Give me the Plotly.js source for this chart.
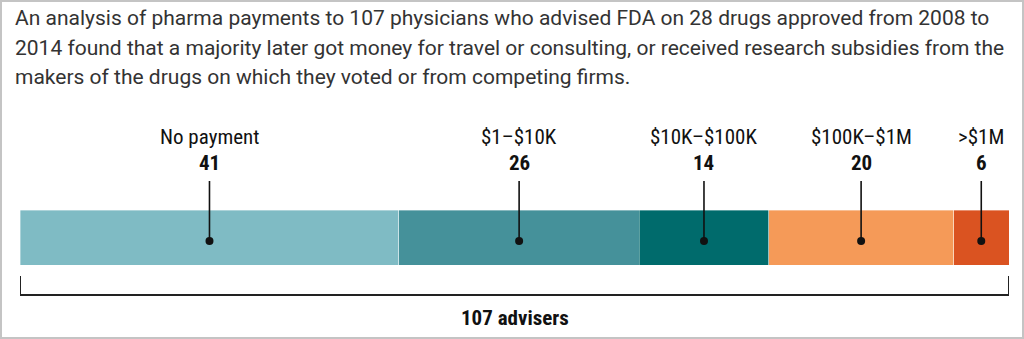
<!DOCTYPE html>
<html>
<head>
<meta charset="utf-8">
<script src="https://cdn.plot.ly/plotly-3.0.1.min.js"></script>
<style>
html,body{margin:0;padding:0;background:#fff;}
#wrap{position:relative;width:1024px;height:339px;}
#chart{width:1024px;height:339px;}
#frame{position:absolute;left:0;top:0;width:1024px;height:339px;box-sizing:border-box;border:2px solid #c4c4c4;pointer-events:none;}
</style>
</head>
<body>
<div id="wrap"><div id="chart"></div><div id="frame"></div></div>
<script>
// ---- data ----
const categories = ["No payment", "$1\u2013$10K", "$10K\u2013$100K", "$100K\u2013$1M", ">$1M"];
const counts = [41, 26, 14, 20, 6];
const colors = ["#7fbbc4", "#45919a", "#006b6c", "#f59a58", "#da5321"];
const totalLabel = "107 advisers";
const introLines = [
  "An analysis of pharma payments to 107 physicians who advised FDA on 28 drugs approved from 2008 to",
  "2014 found that a majority later got money for travel or consulting, or received research subsidies from the",
  "makers of the drugs on which they voted or from competing firms."
];

// ---- layout constants (pixel-like y axis) ----
const W = 1024, H = 339;
const ML = 20, MR = 15;
const plotW = W - ML - MR;
const BAR_Y = 237.5, BAR_H = 55;
const DOT_Y = 241, LINE_TOP = 181;
const NAME_Y = 137, NUM_Y = 163;
const BR_TOP = 276, BR_Y = 295, TOTAL_Y = 318;

const total = counts.reduce((a, b) => a + b, 0);
const mids = [];
let cum = 0;
counts.forEach(v => { mids.push(cum + v / 2); cum += v; });

const condensed = "'Roboto Condensed', 'Liberation Sans Narrow', 'DejaVu Sans Condensed', Roboto, sans-serif";

const traces = categories.map((c, i) => ({
  type: "bar", orientation: "h",
  x: [counts[i]], y: [BAR_Y], width: [BAR_H],
  marker: {color: colors[i], line: {color: "rgba(255,255,255,0.6)", width: 0.6}},
  hoverinfo: "skip", showlegend: false
}));

// leader lines
const lx = [], ly = [];
mids.forEach(m => { lx.push(m, m, null); ly.push(LINE_TOP, DOT_Y, null); });
traces.push({type: "scatter", mode: "lines", x: lx, y: ly, line: {color: "#111", width: 1.6}, hoverinfo: "skip", showlegend: false});
traces.push({type: "scatter", mode: "markers", x: mids, y: mids.map(() => DOT_Y), marker: {color: "#111", size: 8}, hoverinfo: "skip", showlegend: false});

const annotations = [];
introLines.forEach((t, i) => {
  annotations.push({xref: "paper", yref: "y", x: (13 - ML) / plotW, y: 18 + i * 29.5, xanchor: "left", yanchor: "middle",
    text: t, showarrow: false, font: {family: "Roboto, sans-serif", size: 21, color: "#333"}});
});
categories.forEach((c, i) => {
  annotations.push({xref: "x", yref: "y", x: mids[i], y: NAME_Y, text: c, showarrow: false, xanchor: "center", yanchor: "middle",
    font: {family: condensed, size: 21, color: "#111"}});
  annotations.push({xref: "x", yref: "y", x: mids[i], y: NUM_Y, text: "<b>" + counts[i] + "</b>", showarrow: false, xanchor: "center", yanchor: "middle",
    font: {family: condensed, size: 21, color: "#111"}});
});
annotations.push({xref: "x", yref: "y", x: total / 2, y: TOTAL_Y, text: "<b>" + totalLabel + "</b>", showarrow: false, xanchor: "center", yanchor: "middle",
  font: {family: condensed, size: 21, color: "#111"}});

const shapes = [{type: "path", xref: "x", yref: "y",
  path: `M 0 ${BR_TOP} L 0 ${BR_Y} L ${total} ${BR_Y} L ${total} ${BR_TOP}`,
  line: {color: "#222", width: 2}}];

const layout = {
  width: W, height: H,
  margin: {l: ML, r: MR, t: 0, b: 0, pad: 0},
  paper_bgcolor: "#fff", plot_bgcolor: "#fff",
  barmode: "stack", bargap: 0,
  xaxis: {range: [0, total], visible: false, fixedrange: true},
  yaxis: {range: [H, 0], visible: false, fixedrange: true},
  annotations: annotations, shapes: shapes,
  showlegend: false
};

Plotly.newPlot("chart", traces, layout, {staticPlot: true, displayModeBar: false});
</script>
</body>
</html>
